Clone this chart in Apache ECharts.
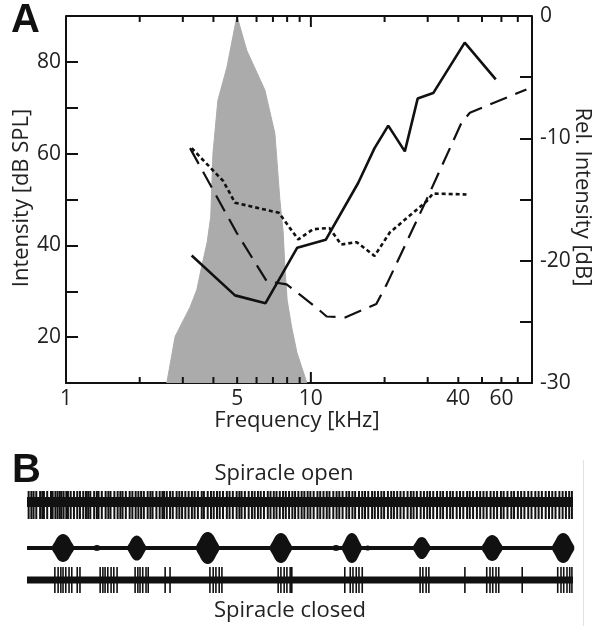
<!DOCTYPE html>
<html><head><meta charset="utf-8">
<script src="https://cdn.jsdelivr.net/npm/echarts@6/dist/echarts.min.js"></script>
<style>html,body{margin:0;padding:0;background:#fff;}#c{width:595px;height:626px;}</style>
</head><body><div id="c"></div>
<script>
// ---------- Panel A data ----------
const xMin = 1, xMax = 80;
const yLeftMin = 10, yLeftMax = 90;
const xTickLabels = [1, 5, 10, 40, 60];
const xMinorTicks = [2, 3, 4, 5, 6, 7, 8, 9, 20, 30, 40, 50, 60, 70];
const xMajorTicks = [1, 10];
const yLeftLabels = [20, 40, 60, 80];
const yRightLabels = [-30, -20, -10, 0];

// calling-song spectrum (relative intensity, dB)
const specFreq = [2.58, 2.79, 3.21, 3.42, 3.58, 3.77, 3.90, 3.98, 4.17, 4.54, 4.99, 5.47, 6.49, 7.13, 7.47, 7.71, 7.83, 8.0, 8.34, 8.77, 9.63];
const specRel  = [-30, -26.2, -23.8, -22.4, -20.5, -18.5, -16.4, -11.3, -6.9, -4.2, 0, -2.8, -6.05, -9.6, -15.0, -17.7, -20.5, -23.2, -25.4, -27.5, -30];

// thresholds (dB SPL)
const solidFreq = [3.26, 4.9, 6.53, 8.8, 11.5, 15.6, 18.2, 20.7, 24.2, 27.3, 31.6, 42.5, 56.9];
const solidSPL  = [37.8, 29.1, 27.4, 39.5, 41.2, 53.6, 61.2, 66.1, 60.5, 72.0, 73.2, 84.2, 76.2];

const dashFreq = [3.21, 4.97, 6.6, 7.96, 10.5, 11.6, 13.8, 18.5, 20.4, 29.7, 41.2, 44.6, 75.9];
const dashSPL  = [61.2, 42.8, 32.2, 31.5, 26.5, 24.5, 24.3, 27.2, 31.5, 50, 66.7, 68.9, 74];

const dotFreq = [3.26, 4.39, 4.9, 7.4, 8.88, 10.2, 11.9, 13.3, 15.4, 18.2, 21.0, 29.7, 31.5, 43.2];
const dotSPL  = [61.2, 54.0, 49.3, 47.1, 41.3, 43.5, 43.8, 40.2, 40.7, 37.7, 42.8, 49.6, 51.3, 51.1];

// ---------- Panel B data (time in ms) ----------
const traceSpan = [0, 1000];
const openSpikes = [3, 8, 12, 17, 24, 28, 31, 37, 44, 47, 52, 56, 60, 63, 67, 72, 75, 80, 86, 92, 97, 103, 108, 112, 116, 123, 128, 131, 137, 144, 149, 153, 160, 166, 171, 175, 181, 188, 193, 199, 204, 209, 214, 221, 226, 230, 237, 243, 248, 251, 256, 262, 267, 274, 279, 284, 290, 296, 302, 307, 313, 320, 324, 331, 337, 342, 348, 353, 359, 366, 371, 377, 384, 389, 393, 399, 406, 412, 417, 423, 428, 434, 441, 446, 452, 457, 463, 469, 474, 480, 486, 491, 497, 503, 508, 514, 519, 525, 532, 537, 543, 549, 554, 561, 567, 572, 578, 585, 590, 596, 601, 608, 614, 619, 625, 632, 637, 643, 649, 654, 661, 667, 672, 678, 684, 690, 697, 703, 708, 714, 721, 727, 733, 738, 744, 751, 757, 762, 769, 775, 780, 787, 793, 799, 806, 811, 817, 824, 830, 836, 842, 849, 855, 861, 868, 873, 880, 887, 892, 899, 905, 911, 918, 924, 931, 937, 943, 950, 956, 962, 968, 975, 981, 987, 993, 998];
const burstTime = [66, 128, 201, 331, 465, 566, 595, 624, 723, 852, 982];
const burstAmp  = [14, 3, 12.5, 16, 15, 3, 15, 2.5, 11, 13, 15];
const burstHalf = [20, 10, 17, 21, 20, 10, 18, 8, 16, 19, 20];
const closedSpikes = [51, 57, 62, 66, 71, 77, 82, 92, 97, 134, 139, 143, 148, 154, 159, 165, 198, 203, 207, 212, 218, 222, 253, 262, 335, 341, 346, 352, 357, 460, 465, 471, 476, 482, 485, 582, 592, 597, 603, 608, 614, 720, 725, 731, 736, 802, 842, 848, 853, 859, 864, 907, 972, 978, 983, 989, 994, 998];

// ---------- build ----------
const zip = (a, b) => a.map((v, i) => [v, b[i]]);
const lg = v => Math.log10(v);
const INK = '#111';
const TXT = '#222';
const FONT = 'Open Sans';
const lblStyle = { color: TXT, fontSize: 21, fontFamily: FONT };
const axLine = () => ({ show: true, onZero: false, lineStyle: { color: INK, width: 2 } });
const plotRect = () => ({ left: 66, width: 466, top: 16, height: 367 });

function spikeSeries(data, xi, yi, up, down, w) {
  return {
    type: 'custom', xAxisIndex: xi, yAxisIndex: yi, silent: true,
    data: data.map(t => [t, 0]),
    renderItem: (params, api) => {
      const t = api.value(0);
      const p1 = api.coord([t, up]);
      const p2 = api.coord([t, -down]);
      return { type: 'line', shape: { x1: p1[0], y1: p1[1], x2: p2[0], y2: p2[1] },
               style: { stroke: INK, lineWidth: w } };
    }
  };
}
// frequency ticks (bottom + top, pointing inward) on an overlay grid: x = log10(kHz), y from -1 (bottom) to 1 (top)
function frameTickSeries(ticks, len) {
  return {
    type: 'custom', xAxisIndex: 5, yAxisIndex: 5, silent: true, z: 5,
    data: ticks.map(v => [lg(v), 0]),
    renderItem: (params, api) => {
      const v = api.value(0);
      const b = api.coord([v, -1]);
      const t = api.coord([v, 1]);
      return { type: 'group', children: [
        { type: 'line', shape: { x1: b[0], y1: b[1], x2: b[0], y2: b[1] - len }, style: { stroke: INK, lineWidth: 2 } },
        { type: 'line', shape: { x1: t[0], y1: t[1], x2: t[0], y2: t[1] + len }, style: { stroke: INK, lineWidth: 2 } }
      ] };
    }
  };
}

const shapeU = [-1, -0.75, -0.5, -0.25, 0, 0.25, 0.5, 0.75, 1];
const shapeF = [0.12, 0.45, 0.78, 0.95, 1, 0.95, 0.78, 0.45, 0.12];
const titleFont = '22px "Open Sans"';

const option = {
  animation: false,
  textStyle: { fontFamily: FONT },
  grid: [
    plotRect(),
    { left: 27, right: 22, top: 486, height: 40 },
    { left: 27, right: 22, top: 528, height: 40 },
    { left: 27, right: 22, top: 560, height: 40 },
    plotRect(),
    plotRect()
  ],
  xAxis: [
    { type: 'log', logBase: 10, min: xMin, max: xMax, gridIndex: 0, position: 'bottom',
      axisLine: axLine(), axisTick: { show: false }, axisLabel: { show: false },
      splitLine: { show: false }, minorTick: { show: false }, minorSplitLine: { show: false } },
    { type: 'value', gridIndex: 4, position: 'bottom', min: lg(xMin), max: lg(xMax),
      axisLine: { show: false, onZero: false }, axisTick: { show: false }, splitLine: { show: false },
      axisLabel: Object.assign({ show: true, margin: 6, customValues: xTickLabels.map(lg),
        formatter: v => String(Math.round(Math.pow(10, v))) }, lblStyle) },
    { type: 'value', gridIndex: 1, min: traceSpan[0], max: traceSpan[1], show: false },
    { type: 'value', gridIndex: 2, min: traceSpan[0], max: traceSpan[1], show: false },
    { type: 'value', gridIndex: 3, min: traceSpan[0], max: traceSpan[1], show: false },
    { type: 'value', gridIndex: 5, min: lg(xMin), max: lg(xMax), show: false }
  ],
  yAxis: [
    { type: 'value', gridIndex: 0, position: 'left', min: yLeftMin, max: yLeftMax, interval: 10,
      axisLine: axLine(),
      axisTick: { show: true, inside: true, length: 12, lineStyle: { color: INK, width: 2 } },
      axisLabel: Object.assign({ margin: 5, customValues: yLeftLabels }, lblStyle),
      splitLine: { show: false } },
    { type: 'value', gridIndex: 0, position: 'right', min: -30, max: 0, interval: 5,
      axisLine: axLine(),
      axisTick: { show: true, inside: true, length: 12, lineStyle: { color: INK, width: 2 } },
      axisLabel: Object.assign({ margin: 8, customValues: yRightLabels }, lblStyle),
      splitLine: { show: false } },
    { type: 'value', gridIndex: 1, min: -24, max: 16, show: false },
    { type: 'value', gridIndex: 2, min: -20, max: 20, show: false },
    { type: 'value', gridIndex: 3, min: -20, max: 20, show: false },
    { type: 'value', gridIndex: 5, min: -1, max: 1, show: false },
    { type: 'value', gridIndex: 4, min: 0, max: 1, show: false }
  ],
  graphic: [
    { type: 'text', left: 11, top: 1, style: { text: 'A', font: 'bold 40px "Liberation Sans", Arial', fill: '#111' } },
    { type: 'text', left: 12, top: 451, style: { text: 'B', font: 'bold 40px "Liberation Sans", Arial', fill: '#111' } },
    { type: 'text', x: 21.5, y: 198, rotation: Math.PI / 2,
      style: { text: 'Intensity [dB SPL]', font: titleFont, fill: TXT, align: 'center', verticalAlign: 'middle' } },
    { type: 'text', x: 582, y: 197, rotation: -Math.PI / 2,
      style: { text: 'Rel. Intensity [dB]', font: titleFont, fill: TXT, align: 'center', verticalAlign: 'middle' } },
    { type: 'text', x: 297, y: 421,
      style: { text: 'Frequency [kHz]', font: titleFont, fill: TXT, align: 'center', verticalAlign: 'middle' } },
    { type: 'text', x: 284, y: 474, style: { text: 'Spiracle open', font: titleFont, fill: TXT, align: 'center', verticalAlign: 'middle' } },
    { type: 'text', x: 290, y: 611, style: { text: 'Spiracle closed', font: titleFont, fill: TXT, align: 'center', verticalAlign: 'middle' } },
    { type: 'line', shape: { x1: 583.5, y1: 460, x2: 583.5, y2: 626 }, style: { stroke: '#e2e2e2', lineWidth: 1 } }
  ],
  series: [
    { type: 'line', xAxisIndex: 0, yAxisIndex: 1, data: zip(specFreq, specRel), symbol: 'none', silent: true,
      lineStyle: { color: '#ababab', width: 1 }, areaStyle: { color: '#ababab', opacity: 1, origin: 'start' }, z: 1 },
    { type: 'line', xAxisIndex: 0, yAxisIndex: 0, data: zip(dashFreq, dashSPL), symbol: 'none', silent: true,
      lineStyle: { color: INK, width: 2.2, type: [18, 9] }, z: 3 },
    { type: 'line', xAxisIndex: 0, yAxisIndex: 0, data: zip(dotFreq, dotSPL), symbol: 'none', silent: true,
      lineStyle: { color: INK, width: 2.6, type: [4, 3] }, z: 3 },
    { type: 'line', xAxisIndex: 0, yAxisIndex: 0, data: zip(solidFreq, solidSPL), symbol: 'none', silent: true,
      lineStyle: { color: INK, width: 2.6 }, z: 4 },
    // top frame of the plot box
    { type: 'line', xAxisIndex: 5, yAxisIndex: 5, data: [[lg(xMin), 1], [lg(xMax), 1]], symbol: 'none', silent: true,
      clip: false, lineStyle: { color: INK, width: 2 }, z: 5 },
    frameTickSeries(xMinorTicks, 6),
    frameTickSeries(xMajorTicks, 11),

    // trace 1: spiracle open
    { type: 'line', xAxisIndex: 2, yAxisIndex: 2, data: [[traceSpan[0], 0], [traceSpan[1], 0]], symbol: 'none', silent: true,
      lineStyle: { color: INK, width: 10 } },
    spikeSeries(openSpikes, 2, 2, 11, 17, 2),

    // trace 2: bursts
    { type: 'line', xAxisIndex: 3, yAxisIndex: 3, data: [[traceSpan[0], 0], [traceSpan[1], 0]], symbol: 'none', silent: true,
      lineStyle: { color: INK, width: 4 } },
    { type: 'custom', xAxisIndex: 3, yAxisIndex: 3, silent: true,
      data: burstTime.map((t, i) => [t, burstAmp[i], burstHalf[i]]),
      renderItem: (params, api) => {
        const t = api.value(0), a = api.value(1), hw = api.value(2);
        const pts = [];
        for (let i = 0; i < shapeU.length; i++) pts.push(api.coord([t + shapeU[i] * hw, shapeF[i] * a]));
        for (let i = shapeU.length - 1; i >= 0; i--) pts.push(api.coord([t + shapeU[i] * hw, -shapeF[i] * a]));
        return { type: 'polygon', shape: { points: pts, smooth: 0.3 }, style: { fill: INK } };
      } },

    // trace 3: spiracle closed
    { type: 'line', xAxisIndex: 4, yAxisIndex: 4, data: [[traceSpan[0], 0], [traceSpan[1], 0]], symbol: 'none', silent: true,
      lineStyle: { color: INK, width: 7 } },
    spikeSeries(closedSpikes, 4, 4, 13, 13, 1.6)
  ]
};

const chart = echarts.init(document.getElementById('c'));
chart.setOption(option);
</script></body></html>
